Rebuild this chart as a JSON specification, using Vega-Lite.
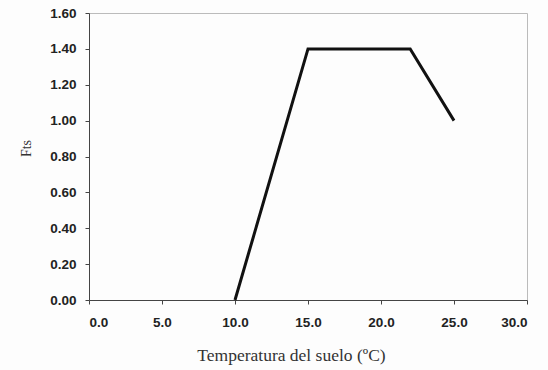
{
  "$schema": "https://vega.github.io/schema/vega-lite/v6.json",
  "autosize": "none",
  "width": 438,
  "height": 287,
  "padding": {"left": 89, "top": 13, "right": 21, "bottom": 70},
  "background": "#fdfdfd",
  "config": {
    "view": {"stroke": "#bbbbbb", "strokeWidth": 1},
    "axis": {
      "grid": false,
      "domainColor": "#444444",
      "tickColor": "#444444",
      "tickSize": 4,
      "labelFont": "Liberation Sans",
      "labelFontWeight": "bold",
      "labelFontSize": 13.5,
      "labelColor": "#222222",
      "titleFont": "Liberation Serif",
      "titleFontWeight": "normal",
      "titleFontSize": 17.5,
      "titleColor": "#333333"
    }
  },
  "data": {
    "values": [
      {"t": 10, "fts": 0},
      {"t": 15, "fts": 1.4},
      {"t": 22, "fts": 1.4},
      {"t": 25, "fts": 1.0}
    ]
  },
  "mark": {"type": "line", "color": "#111111", "strokeWidth": 3},
  "encoding": {
    "x": {
      "field": "t",
      "type": "quantitative",
      "scale": {"domain": [0, 30], "nice": false},
      "axis": {"values": [0, 5, 10, 15, 20, 25, 30], "format": ".1f", "title": "Temperatura del suelo (ºC)", "labelPadding": 11, "titlePadding": 18, "titleX": 202}
    },
    "y": {
      "field": "fts",
      "type": "quantitative",
      "scale": {"domain": [0, 1.6], "nice": false},
      "axis": {"values": [0, 0.2, 0.4, 0.6, 0.8, 1.0, 1.2, 1.4, 1.6], "format": ".2f", "title": "Fts", "titleFontSize": 14, "labelPadding": 9, "titlePadding": 16, "titleY": 135}
    }
  }
}
